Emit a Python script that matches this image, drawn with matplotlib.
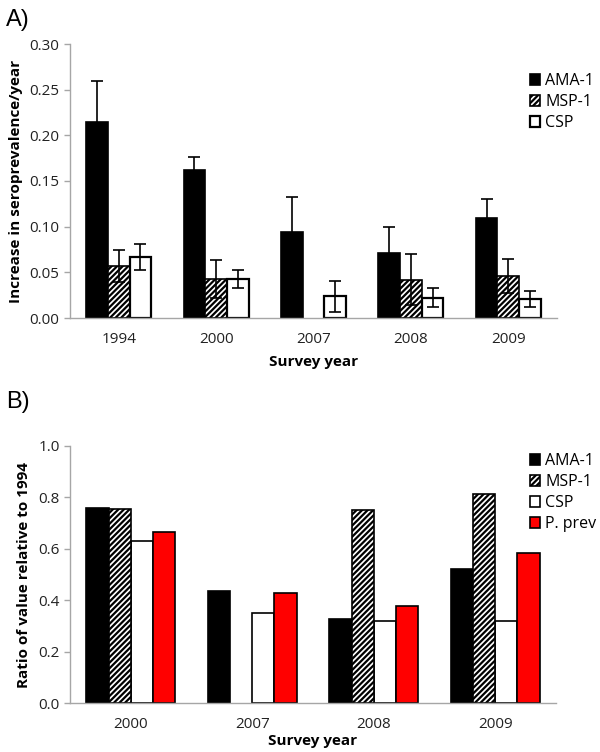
import numpy as np
import matplotlib
matplotlib.use("Agg")
import matplotlib.pyplot as plt

plt.rcParams['font.family'] = ['Open Sans', 'DejaVu Sans']
plt.rcParams['hatch.linewidth'] = 1.6

# Panel A data
years_a = ["1994", "2000", "2007", "2008", "2009"]
ama_a = [0.215, 0.162, 0.094, 0.0715, 0.110]
ama_a_err = [0.045, 0.014, 0.038, 0.028, 0.020]
msp_a = [0.057, 0.043, np.nan, 0.042, 0.046]
msp_a_err = [0.018, 0.021, np.nan, 0.028, 0.019]
csp_a = [0.067, 0.043, 0.024, 0.022, 0.021]
csp_a_err = [0.014, 0.010, 0.017, 0.0105, 0.0085]

# Panel B data
years_b = ["2000", "2007", "2008", "2009"]
ama_b = [0.759, 0.437, 0.328, 0.520]
msp_b = [0.753, np.nan, 0.751, 0.811]
csp_b = [0.630, 0.349, 0.320, 0.320]
pprev_b = [0.666, 0.427, 0.379, 0.583]

grey = '#A6A6A6'
fig = plt.figure(figsize=(6, 7.52), dpi=100)

def style(ax):
    for s in ['top', 'right']:
        ax.spines[s].set_visible(False)
    for s in ['left', 'bottom']:
        ax.spines[s].set_color(grey)
        ax.spines[s].set_linewidth(1.0)
    ax.tick_params(axis='y', colors=grey, labelcolor='#222222', length=4, width=1, labelsize=11)
    ax.tick_params(axis='x', length=0, labelcolor='#222222', labelsize=11, pad=10)

leg_kw = dict(loc='upper left', bbox_transform=fig.transFigure, frameon=False, fontsize=11.5,
              handlelength=0.65, handleheight=0.65, handletextpad=0.3, labelspacing=0.32,
              borderaxespad=0, borderpad=0)

# ---- Panel A ----
axA = fig.add_axes([70/600, 1-318/752, 487/600, 274/752])
x = np.arange(len(years_a))
w = 0.223
ekw = dict(ecolor='black', elinewidth=1.2, capsize=4, capthick=1.2)
axA.bar(x - w, ama_a, w, color='black', edgecolor='black', linewidth=1.2,
        yerr=ama_a_err, error_kw=ekw, label='AMA-1', zorder=2)
axA.bar(x, msp_a, w, color='white', edgecolor='black', linewidth=1.2, hatch='//////',
        yerr=msp_a_err, error_kw=ekw, label='MSP-1', zorder=2)
axA.bar(x + w, csp_a, w, color='white', edgecolor='black', linewidth=1.6,
        yerr=csp_a_err, error_kw=ekw, label='CSP', zorder=2)
axA.set_xlim(-0.5, len(years_a) - 0.5)
axA.set_ylim(0, 0.30)
axA.set_yticks(np.arange(0, 0.301, 0.05))
axA.set_yticklabels([f"{v:.2f}" for v in np.arange(0, 0.301, 0.05)])
axA.set_xticks(x)
axA.set_xticklabels(years_a)
style(axA)
axA.set_xlabel("Survey year", fontweight='bold', fontsize=11, labelpad=6)
axA.set_ylabel("Increase in seroprevalence/year", fontweight='bold', fontsize=11, labelpad=5)
axA.legend(bbox_to_anchor=(530/600, 1-73/752), **leg_kw)
fig.text(6/600, 1-26/752, "A)", fontsize=17, family='Liberation Sans')

# ---- Panel B ----
axB = fig.add_axes([70/600, 1-703.3/752, 486/600, 257.6/752])
xb = np.arange(len(years_b))
wb = 0.183
axB.bar(xb - 1.5*wb, ama_b, wb, color='black', edgecolor='black', linewidth=1.2, label='AMA-1', zorder=2)
axB.bar(xb - 0.5*wb, msp_b, wb, color='white', edgecolor='black', linewidth=1.2, hatch='//////', label='MSP-1', zorder=2)
axB.bar(xb + 0.5*wb, csp_b, wb, color='white', edgecolor='black', linewidth=1.2, label='CSP', zorder=1)
axB.bar(xb + 1.5*wb, pprev_b, wb, color='#FF0000', edgecolor='black', linewidth=1.2, label='P. prev', zorder=2)
axB.set_xlim(-0.5, len(years_b) - 0.5)
axB.set_ylim(0, 1.0)
axB.set_yticks(np.arange(0, 1.01, 0.2))
axB.set_yticklabels([f"{v:.1f}" for v in np.arange(0, 1.01, 0.2)])
axB.set_xticks(xb)
axB.set_xticklabels(years_b)
style(axB)
axB.set_xlabel("Survey year", fontweight='bold', fontsize=11, labelpad=1)
axB.set_ylabel("Ratio of value relative to 1994", fontweight='bold', fontsize=11, labelpad=5)
axB.legend(bbox_to_anchor=(530/600, 1-453/752), **leg_kw)
fig.text(6/600, 1-408/752, "B)", fontsize=17, family='Liberation Sans')

fig.savefig("out.png", dpi=100)
